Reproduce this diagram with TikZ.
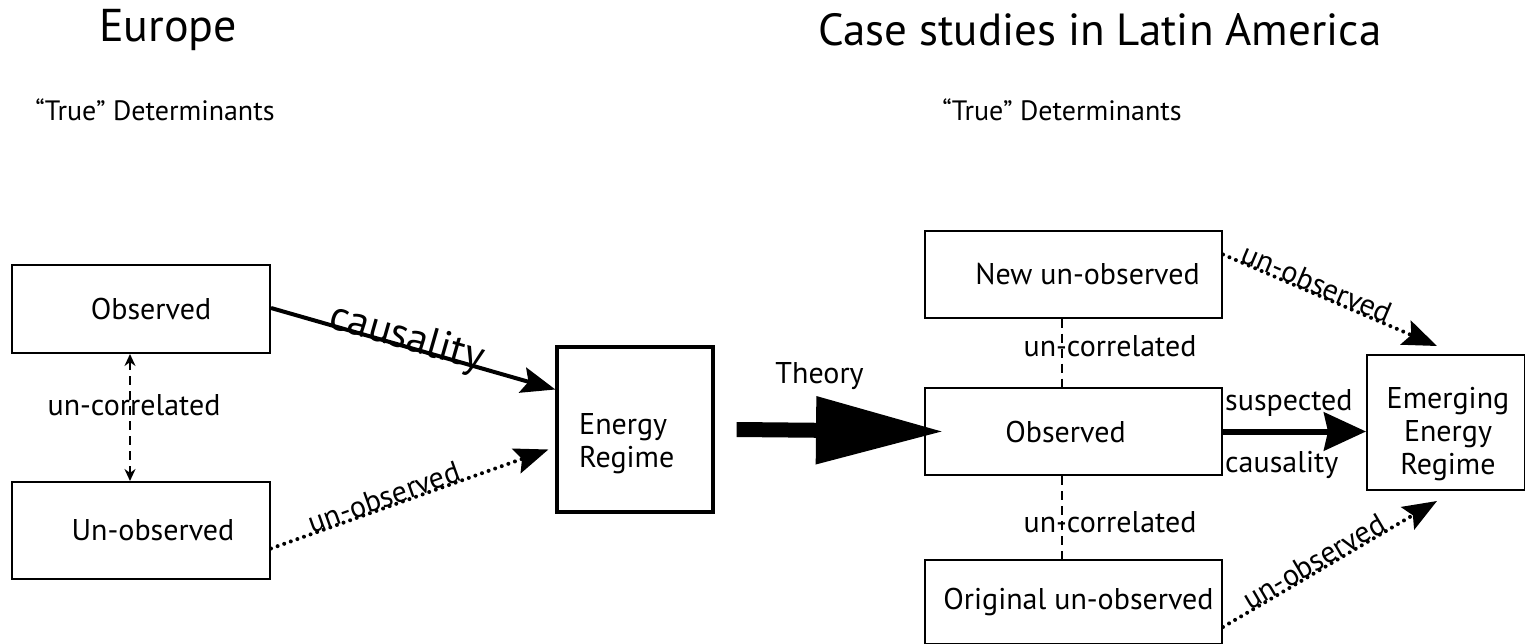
\documentclass[tikz,border=0pt]{standalone}
\usepackage{fontspec}
\setmainfont{PT Sans}
\usetikzlibrary{arrows.meta,calc}
\begin{document}
\begin{tikzpicture}[x=1pt,y=-1pt,
  fnt/.style={font=\fontsize{30}{33}\selectfont},
  box/.style={draw,line width=2pt,minimum width=258pt,minimum height=88pt,inner sep=0pt,fnt},
  rbox/.style={draw,line width=2pt,minimum width=297pt,minimum height=86pt,inner sep=0pt,fnt},
  lbl/.style={fnt,inner sep=1pt},
  dotline/.style={line width=4pt,dash pattern=on 0pt off 7pt,line cap=round},
  dashline/.style={line width=2.4pt,dash pattern=on 9pt off 6pt},
  hd/.style={-{Stealth[length=34pt,width=26pt,inset=6pt,line cap=butt]}},
]
\useasboundingbox (0,0) rectangle (1525,644);
% titles
\node[font=\fontsize{46}{50}\selectfont] (eu) at (168,30) {Europe};
\node[font=\fontsize{45}{50}\selectfont] (la) at (1100,30) {Case studies in Latin America};
\node[font=\fontsize{28}{32}\selectfont] (td1) at (155,110) {“True” Determinants};
\node[font=\fontsize{28}{32}\selectfont] (td2) at (1062,110) {“True” Determinants};
% left boxes
\node[box] (lobs) at (141,309) {\hspace*{20pt}Observed};
\node[box,minimum height=97pt] (lunobs) at (141,530.5) {\hspace*{24pt}Un-observed};
\node[draw,line width=3.2pt,minimum width=156pt,minimum height=165pt,inner sep=0pt] (er) at (635,429.5) {};
\node[fnt,align=left,anchor=west,inner sep=0pt] (ertxt) at (579,444) {Energy\\Regime};
% right boxes
\node[rbox] (newun) at (1073.5,274.5) {\hspace*{28pt}New un-observed};
\node[rbox,minimum height=87pt] (robs) at (1073.5,431.5) {\hspace*{-16pt}Observed};
\node[rbox,minimum height=84pt] (orig) at (1073.5,602) {\hspace*{10pt}Original un-observed};
\node[draw,line width=2pt,minimum width=158pt,minimum height=135pt,inner sep=0pt] (emer) at (1446,422.5) {};
\node[fnt,align=center,inner sep=0pt] (emtxt) at (1448,434) {Emerging\\Energy\\Regime};
% left connectors
\draw[dashline,{Stealth[length=12pt,width=11pt]}-{Stealth[length=12pt,width=11pt]}] ([xshift=-11pt]lobs.south) -- node[lbl,pos=0.4,xshift=4pt] (uc1) {un-correlated} ([xshift=-11pt]lunobs.north);
\draw[line width=4pt,hd] ([yshift=1pt]lobs.east) -- node[sloped,anchor=base,font=\fontsize{42}{46}\selectfont,inner sep=0pt,pos=0.47,yshift=-3pt] (caus) {causality} ([yshift=40pt]er.west);
\draw[dotline,hd] ([yshift=-18pt]lunobs.east) -- node[sloped,anchor=base,fnt,inner sep=0pt,pos=0.42] (uo1) {un-observed} ([xshift=-7pt,yshift=-20pt]er.west);
% theory
\draw[line width=15pt,-{Triangle[length=128pt,width=64pt]}] ([xshift=22pt]er.east) -- node[above=32pt,lbl,pos=0.4] (th) {Theory} ([xshift=20pt]robs.west);
% right connectors
\draw[dashline] ([xshift=-11.5pt]newun.south) -- ([xshift=-11.5pt]robs.north);
\node[lbl] (uc2) at (1110,346) {un-correlated};
\draw[dashline] ([xshift=-11.5pt]robs.south) -- ([xshift=-11.5pt]orig.north);
\node[lbl] (uc3) at (1110,522) {un-correlated};
\draw[line width=6pt,-{Stealth[length=42pt,width=38pt,inset=4pt]}] (robs.east) -- ([yshift=-9pt]emer.west);
\node[lbl,anchor=west] (sus) at (1224,403) {suspected};
\node[lbl,anchor=west] (cau2) at (1224,465) {causality};
\draw[dotline,hd] ([yshift=20pt]newun.east) -- node[sloped,anchor=base,fnt,inner sep=0pt,pos=0.42] (uo2) {un-observed} ([xshift=-9pt,yshift=8pt]emer.north);
\draw[dotline,hd] ([yshift=-25pt]orig.east) -- node[sloped,anchor=base,fnt,inner sep=0pt,pos=0.45] (uo3) {un-observed} ([xshift=-9pt,yshift=-10pt]emer.south);
\end{tikzpicture}
\end{document}
